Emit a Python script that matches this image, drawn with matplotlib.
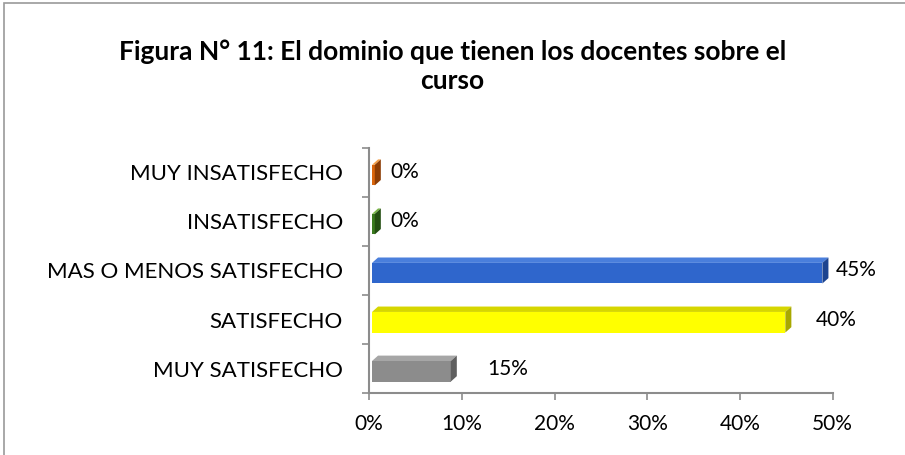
import matplotlib
matplotlib.use("Agg")
import matplotlib.pyplot as plt
from matplotlib.patches import Polygon, Rectangle

# data (bar lengths as drawn in the picture, labels as printed)
categories = ["MUY SATISFECHO", "SATISFECHO", "MAS O MENOS SATISFECHO",
              "INSATISFECHO", "MUY INSATISFECHO"]
bar_values = [8.5, 44.6, 48.6, 0.3, 0.3]
bar_labels = ["15%", "40%", "45%", "0%", "0%"]
x_ticks = [0, 10, 20, 30, 40, 50]

# styles
front_colors = ["#8c8c8c", "#ffff00", "#2f66cc", "#3a7a1e", "#d9650c"]
top_colors = ["#a6a6a6", "#d6d600", "#4a7fdc", "#7ab648", "#f4a04a"]
side_colors = ["#5f5f5f", "#a8a800", "#1d4490", "#244f12", "#8c3d05"]
label_pad = [3.3, 2.6, 0.8, 1.0, 1.0]

plt.rcParams['font.family'] = ['Lato', 'DejaVu Sans']

fig = plt.figure(figsize=(9.05, 4.55), dpi=100)
fig.patches.append(Rectangle((0.004, -0.1), 1.1, 1.093, transform=fig.transFigure,
                             fill=False, edgecolor="#9a9a9a", lw=1.2))

ax = fig.add_axes([0.408, 0.136, 0.512, 0.539])
ax.set_xlim(0, 50)
ax.set_ylim(-0.5, 4.5)

h = 0.42     # front face height
dx = 0.65    # depth in x (percent)
dy = 0.11    # depth in y (category units)
x0 = 0.3
for i, v in enumerate(bar_values):
    y = i - h / 2 - dy / 2
    ax.add_patch(Rectangle((x0, y), v, h, facecolor=front_colors[i],
                           edgecolor="none", zorder=3))
    ax.add_patch(Polygon([(x0, y + h), (x0 + v, y + h), (x0 + v + dx, y + h + dy),
                          (x0 + dx, y + h + dy)], closed=True,
                         facecolor=top_colors[i], edgecolor="none", zorder=3))
    ax.add_patch(Polygon([(x0 + v, y), (x0 + v + dx, y + dy), (x0 + v + dx, y + h + dy),
                          (x0 + v, y + h)], closed=True,
                         facecolor=side_colors[i], edgecolor="none", zorder=3))
    ax.text(x0 + v + dx + label_pad[i], i, bar_labels[i], va="center",
            ha="left", fontsize=15, color="black")

ax.set_yticks(range(len(categories)))
ax.set_yticklabels(categories, fontsize=16)
ax.set_yticks([k - 0.5 for k in range(len(categories) + 1)], minor=True)
ax.tick_params(axis="y", which="major", length=0, pad=19)
ax.tick_params(axis="y", which="minor", length=5, color="#8c8c8c", width=1.2)

ax.set_xticks(x_ticks)
ax.set_xticklabels([f"{t}%" for t in x_ticks], fontsize=15)
ax.tick_params(axis="x", length=5, color="#8c8c8c", width=1.2, pad=10)

for s in ["top", "right"]:
    ax.spines[s].set_visible(False)
for s in ["left", "bottom"]:
    ax.spines[s].set_color("#8c8c8c")
    ax.spines[s].set_linewidth(1.5)

fig.text(0.5, 0.855, "Figura N° 11: El dominio que tienen los docentes sobre el\ncurso",
         ha="center", va="center", fontsize=19, fontweight="bold",
         linespacing=1.25)

fig.savefig("out.png", dpi=100)
